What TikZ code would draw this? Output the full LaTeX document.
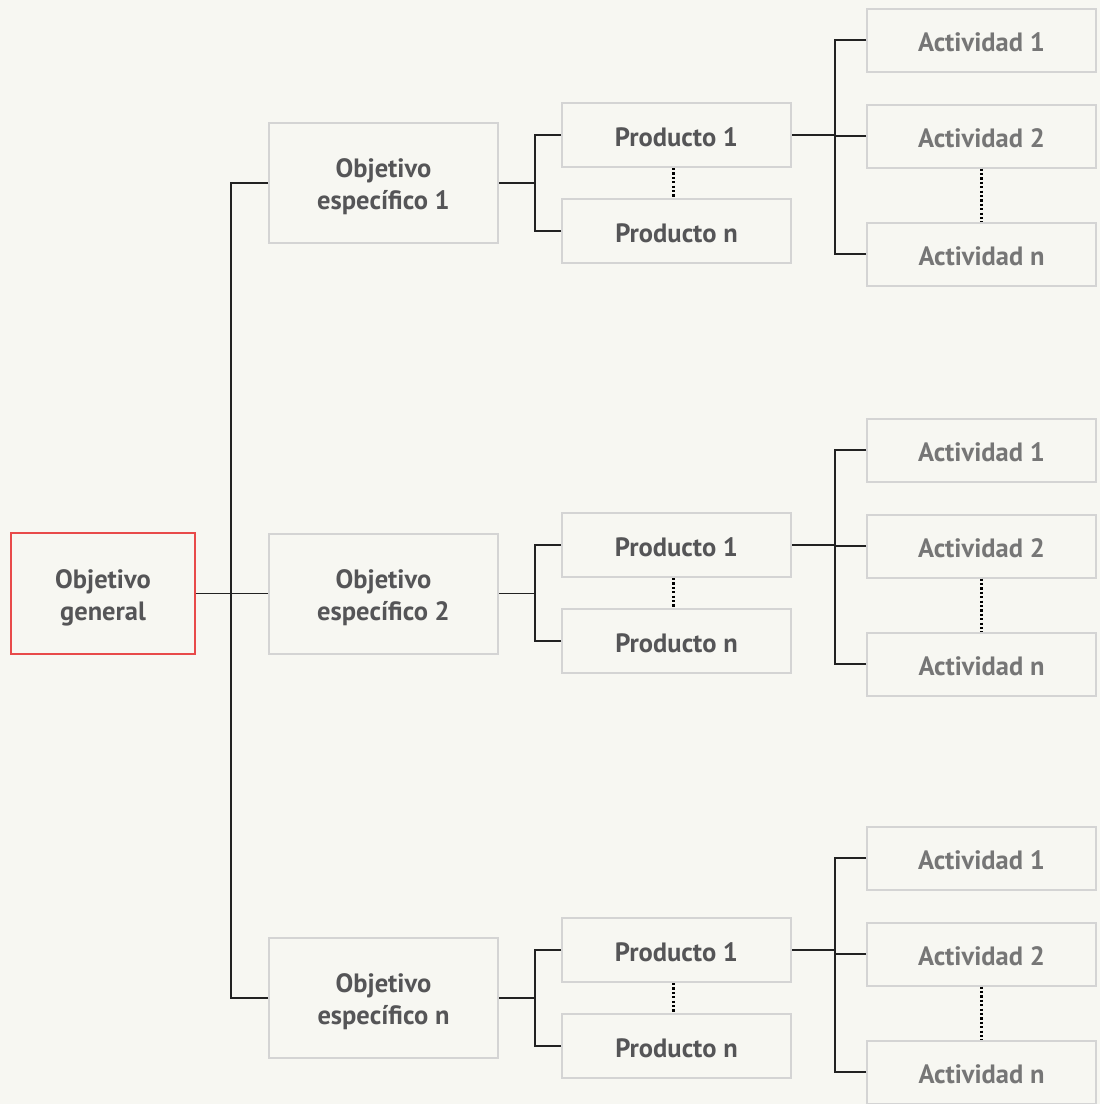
\documentclass[tikz,border=0pt]{standalone}
\usepackage{fontspec}
\setmainfont{PT Sans}
\usetikzlibrary{calc}
\definecolor{bg}{HTML}{F7F7F2}
\definecolor{boxline}{HTML}{D4D4D4}
\definecolor{redline}{HTML}{E84A4A}
\definecolor{darktext}{HTML}{555557}
\definecolor{lighttext}{HTML}{767676}
\definecolor{wire}{HTML}{222222}
\begin{document}
\begin{tikzpicture}[x=1pt,y=-1pt,
  base/.style={draw=boxline, line width=2pt, fill=bg, inner sep=0pt, align=center,
    font=\fontsize{26.5}{32}\selectfont\bfseries, text depth=0pt},
  twoline/.style={text height=53.5pt},
  oneline/.style={text height=23.5pt},
  genbox/.style={base, twoline, draw=redline, minimum width=184pt, minimum height=121pt, text=darktext},
  objbox/.style={base, twoline, minimum width=229pt, minimum height=120pt, text=darktext},
  prodbox/.style={base, oneline, minimum width=229pt, minimum height=64pt, text=darktext},
  actbox/.style={base, oneline, minimum width=229pt, minimum height=63pt, text=lighttext},
  wireline/.style={draw=wire, line width=1.4pt},
  dotline/.style={draw=black, line width=2.4pt, dash pattern=on 2.2pt off 2.2pt}]
  % page
  \fill[bg] (0,0) rectangle (1100,1104);
  \useasboundingbox (0,0) rectangle (1100,1104);

  % root
  \node[genbox] (gen) at (103,593.5) {Objetivo\\general};

  % specific objectives
  \node[objbox] (o1) at (383.5,183) {Objetivo\\específico 1};
  \node[objbox] (o2) at (383.5,593.5) {Objetivo\\específico 2};
  \node[objbox] (o3) at (383.5,998) {Objetivo\\específico n};

  % products
  \node[prodbox] (p11) at (676.5,135) {Producto 1};
  \node[prodbox] (p1n) at (676.5,231) {Producto n};
  \node[prodbox] (p21) at (676.5,545) {Producto 1};
  \node[prodbox] (p2n) at (676.5,641) {Producto n};
  \node[prodbox] (p31) at (676.5,950) {Producto 1};
  \node[prodbox] (p3n) at (676.5,1046) {Producto n};

  % activities
  \node[actbox] (a11) at (981.5,40) {Actividad 1};
  \node[actbox] (a12) at (981.5,136) {Actividad 2};
  \node[actbox] (a1n) at (981.5,254) {Actividad n};
  \node[actbox] (a21) at (981.5,450) {Actividad 1};
  \node[actbox] (a22) at (981.5,546) {Actividad 2};
  \node[actbox] (a2n) at (981.5,664) {Actividad n};
  \node[actbox] (a31) at (981.5,858) {Actividad 1};
  \node[actbox] (a32) at (981.5,954) {Actividad 2};
  \node[actbox] (a3n) at (981.5,1072) {Actividad n};

  % root to objectives
  \foreach \o in {o1,o2,o3}
    \draw[wireline] (\o.west) -- ++(-37,0) |- (gen.east);

  % objectives to products
  \foreach \o/\p/\q in {o1/p11/p1n, o2/p21/p2n, o3/p31/p3n}{
    \draw[wireline] (\p.west) -- ++(-26,0) |- (\o.east);
    \draw[wireline] (\q.west) -- ++(-26,0) |- (\o.east);
    \draw[dotline] ([xshift=-3pt]\p.south) -- ([xshift=-3pt]\q.north);
  }

  % products to activities
  \foreach \p/\a/\b/\c in {p11/a11/a12/a1n, p21/a21/a22/a2n, p31/a31/a32/a3n}{
    \draw[wireline] (\a.west) -- ++(-31,0) |- (\p.east);
    \draw[wireline] (\b.west) -- ++(-31,0) |- (\p.east);
    \draw[wireline] (\c.west) -- ++(-31,0) |- (\p.east);
    \draw[dotline] (\b.south) -- (\c.north);
  }
\end{tikzpicture}
\end{document}
